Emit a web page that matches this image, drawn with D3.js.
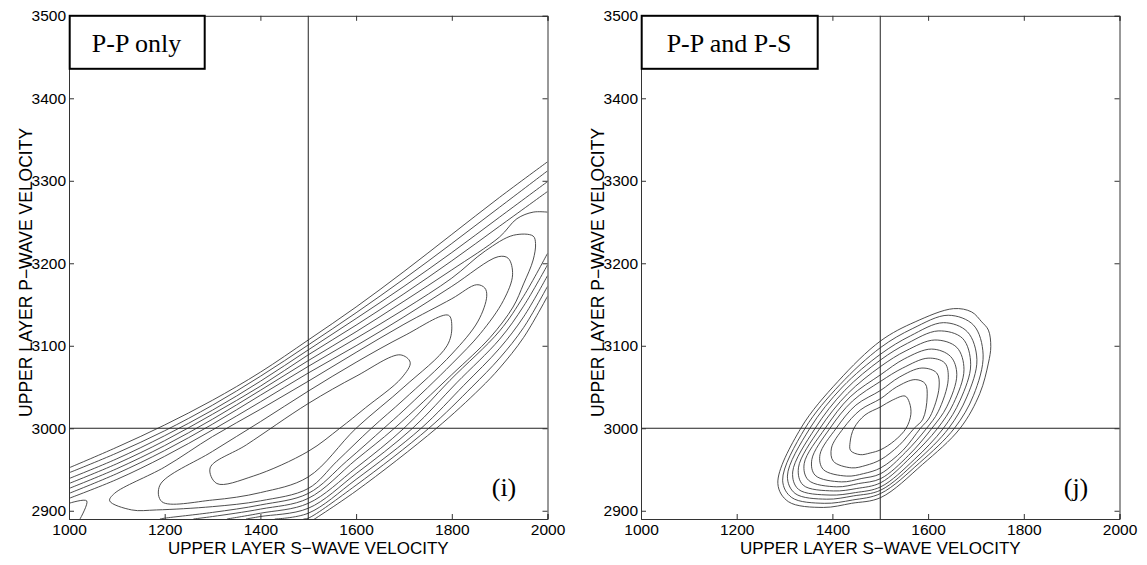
<!DOCTYPE html>
<html>
<head>
<meta charset="utf-8">
<script src="https://cdn.jsdelivr.net/npm/d3@7"></script>
<style>
  body { margin: 0; background: #fff; }
</style>
</head>
<body>
<script>
// axis ticks
const sTicks = [1000, 1200, 1400, 1600, 1800, 2000];
const pTicks = [2900, 3000, 3100, 3200, 3300, 3400, 3500];
const sRange = [1000, 2000];
const pRange = [2890, 3500];

// true model (cross lines)
const trueS = 1500;
const trueP = 3000;

// contour lines, [S velocity, P velocity]
const ppOnly = [
  // upper branches, left edge -> right edge
  [[1000,2952],[1100,2977],[1200,3004],[1300,3034],[1400,3068],[1500,3107],[1600,3147],[1700,3190],[1800,3235],[1900,3280],[2000,3323]],
  [[1000,2946],[1100,2970],[1200,2997],[1300,3028],[1400,3063],[1500,3101],[1600,3140],[1700,3181],[1800,3224],[1900,3268],[2000,3312]],
  [[1000,2939],[1100,2963],[1200,2991],[1300,3022],[1400,3057],[1500,3095],[1600,3133],[1700,3172],[1800,3213],[1900,3256],[2000,3299]],
  [[1000,2933],[1100,2957],[1200,2985],[1300,3017],[1400,3051],[1500,3089],[1600,3125],[1700,3163],[1800,3203],[1900,3245],[2000,3287]],
  [[1000,2927],[1100,2951],[1200,2979],[1300,3011],[1400,3046],[1500,3082],[1600,3117],[1700,3154],[1800,3192],[1900,3232],[1936,3254],[1970,3262],[2000,3262]],
  // lower branches, bottom edge -> right edge
  [[1330,2890],[1400,2897],[1500,2909],[1600,2952],[1700,3000],[1796,3058],[1900,3118],[1950,3160],[2000,3212]],
  [[1370,2890],[1400,2893],[1500,2903],[1600,2945],[1718,3000],[1810,3055],[1900,3108],[1950,3148],[2000,3198]],
  [[1430,2890],[1500,2897],[1600,2938],[1736,3000],[1825,3052],[1900,3097],[1950,3135],[2000,3185]],
  [[1490,2890],[1500,2891],[1600,2931],[1752,3000],[1842,3050],[1900,3085],[1950,3122],[2000,3172]],
  [[1500,2885],[1600,2924],[1768,3000],[1859,3048],[1900,3073],[1950,3110],[2000,3160]],
  // levels that close on the right
  [[1000,2921],[1100,2945],[1200,2973],[1300,3005],[1400,3040],[1500,3075],[1600,3109],[1700,3144],[1800,3182],[1870,3215],[1929,3234],[1970,3233],[1975,3224],[1970,3204],[1950,3175],[1928,3147],[1880,3110],[1800,3065],[1680,3000],[1600,2962],[1500,2915],[1400,2902],[1300,2893],[1260,2890]],
  [[1000,2915],[1100,2938],[1200,2966],[1300,2998],[1400,3032],[1500,3067],[1600,3100],[1700,3135],[1800,3172],[1897,3208],[1918,3206],[1927,3186],[1908,3155],[1860,3115],[1800,3078],[1700,3022],[1658,3000],[1580,2960],[1500,2921],[1400,2907],[1300,2898],[1200,2891],[1190,2890]],
  [[1000,2909],[1037,2912],[1023,2890]],
  // closed levels
  [[1085,2912],[1095,2921],[1200,2953],[1300,2990],[1400,3023],[1500,3057],[1600,3092],[1700,3126],[1800,3157],[1852,3174],[1869,3170],[1873,3160],[1855,3130],[1800,3090],[1700,3035],[1632,3000],[1560,2960],[1500,2927],[1400,2912],[1300,2905],[1183,2901],[1131,2901],[1085,2912]],
  [[1190,2931],[1300,2972],[1400,3008],[1500,3045],[1600,3080],[1700,3112],[1793,3137],[1800,3123],[1790,3100],[1700,3050],[1600,3000],[1500,2941],[1400,2922],[1300,2913],[1194,2911],[1190,2931]],
  [[1295,2952],[1371,2980],[1500,3030],[1600,3063],[1692,3089],[1713,3080],[1695,3061],[1620,3025],[1566,3000],[1500,2972],[1385,2942],[1309,2933],[1295,2952]]
];

// contour rings, outermost first
const ppPs = [
  [[1653,3145],[1691,3141],[1712,3129],[1726,3119],[1731,3099],[1726,3079],[1708,3042],[1667,3000],[1588,2956],[1501,2916],[1440,2909],[1381,2904],[1308,2911],[1286,2933],[1334,3000],[1412,3057],[1501,3106],[1573,3129],[1653,3145]],
  [[1642,3137],[1695,3125],[1715,3089],[1695,3040],[1655,3000],[1582,2958],[1501,2921],[1442,2913],[1383,2909],[1315,2916],[1296,2937],[1343,3000],[1416,3053],[1501,3098],[1568,3121],[1642,3137]],
  [[1632,3128],[1682,3117],[1702,3083],[1681,3038],[1643,3000],[1576,2960],[1501,2925],[1444,2918],[1388,2914],[1322,2921],[1306,2942],[1353,3000],[1421,3050],[1501,3090],[1563,3112],[1632,3128]],
  [[1621,3118],[1672,3109],[1689,3077],[1667,3034],[1632,3000],[1571,2962],[1501,2929],[1448,2922],[1395,2919],[1329,2926],[1317,2947],[1364,3000],[1426,3046],[1501,3083],[1557,3103],[1621,3118]],
  [[1614,3107],[1660,3098],[1675,3071],[1653,3030],[1620,3000],[1564,2965],[1501,2934],[1451,2927],[1402,2924],[1339,2931],[1329,2952],[1374,3000],[1432,3042],[1501,3075],[1554,3094],[1614,3107]],
  [[1607,3096],[1647,3087],[1660,3065],[1639,3026],[1608,3000],[1559,2967],[1501,2939],[1455,2933],[1409,2929],[1350,2937],[1341,2957],[1385,3000],[1437,3038],[1501,3065],[1550,3084],[1607,3096]],
  [[1600,3085],[1635,3079],[1642,3059],[1621,3020],[1597,3000],[1553,2971],[1501,2945],[1460,2939],[1419,2935],[1364,2943],[1357,2962],[1395,3000],[1442,3033],[1501,3057],[1547,3073],[1600,3085]],
  [[1587,3073],[1618,3067],[1623,3050],[1604,3014],[1584,3000],[1547,2973],[1501,2952],[1465,2945],[1430,2942],[1381,2950],[1374,2968],[1408,3000],[1449,3028],[1501,3046],[1540,3062],[1587,3073]],
  [[1573,3059],[1594,3054],[1598,3038],[1589,3011],[1571,3000],[1539,2979],[1501,2962],[1470,2955],[1440,2952],[1402,2960],[1398,2976],[1423,3000],[1458,3022],[1501,3036],[1534,3050],[1573,3059]],
  [[1552,3039],[1561,3031],[1564,3017],[1554,3000],[1530,2985],[1501,2974],[1479,2970],[1458,2968],[1438,2973],[1437,2983],[1445,3000],[1468,3016],[1501,3026],[1525,3034],[1552,3039]]
];

const panels = [
  { left: 69, title: "P-P only", boxW: 135, tag: "(i)", lines: ppOnly },
  { left: 641, title: "P-P and P-S", boxW: 176, tag: "(j)", lines: ppPs }
];

const W = 1147, H = 565;
const plotW = 478.5, plotTop = 15.8, plotBottom = 519;

const svg = d3.select("body").append("svg")
  .attr("width", W)
  .attr("height", H)
  .style("font-family", "'Liberation Sans', Arial, sans-serif");

// closed rings repeat their first point; draw those with a closed curve
function contourPath(x, y) {
  let open = d3.line().x(d => x(d[0])).y(d => y(d[1])).curve(d3.curveCatmullRom.alpha(0.5));
  let closed = d3.line().x(d => x(d[0])).y(d => y(d[1])).curve(d3.curveCatmullRomClosed.alpha(0.5));
  return function (pts) {
    let a = pts[0], b = pts[pts.length - 1];
    if (pts.length > 3 && a[0] === b[0] && a[1] === b[1]) return closed(pts.slice(0, -1));
    return open(pts);
  };
}

panels.forEach(function (p, i) {
  let h = plotBottom - plotTop;
  let x = d3.scaleLinear().domain(sRange).range([0, plotW]);
  let y = d3.scaleLinear().domain(pRange).range([h, 0]);

  let g = svg.append("g").attr("transform", "translate(" + p.left + "," + plotTop + ")");

  g.append("clipPath").attr("id", "clip" + i)
    .append("rect").attr("width", plotW).attr("height", h);

  // contours
  g.append("g").attr("clip-path", "url(#clip" + i + ")")
    .selectAll("path").data(p.lines).enter()
    .append("path")
    .attr("d", contourPath(x, y))
    .attr("fill", "none")
    .attr("stroke", "#3a3a3a")
    .attr("stroke-width", 0.9);

  // true model lines
  g.append("line").attr("x1", x(trueS)).attr("x2", x(trueS)).attr("y1", 0).attr("y2", h)
    .attr("stroke", "#222").attr("stroke-width", 1);
  g.append("line").attr("x1", 0).attr("x2", plotW).attr("y1", y(trueP)).attr("y2", y(trueP))
    .attr("stroke", "#222").attr("stroke-width", 1);

  // axes, ticks pointing inward
  let fmt = d3.format("d");
  let ax = [
    g.append("g").attr("transform", "translate(0," + h + ")")
      .call(d3.axisBottom(x).tickValues(sTicks).tickFormat(fmt).tickSize(-5).tickPadding(5)),
    g.append("g")
      .call(d3.axisLeft(y).tickValues(pTicks).tickFormat(fmt).tickSize(-5).tickPadding(3)),
    g.append("g")
      .call(d3.axisTop(x).tickValues(sTicks).tickSize(-5).tickFormat("")),
    g.append("g").attr("transform", "translate(" + plotW + ",0)")
      .call(d3.axisRight(y).tickValues(pTicks).tickSize(-5).tickFormat(""))
  ];
  ax.forEach(function (a) {
    a.selectAll("path, line").attr("stroke", "#333");
    a.selectAll("text").attr("fill", "#000").style("font-size", "15.5px")
      .style("font-family", "'Liberation Sans', Arial, sans-serif");
  });

  // axis titles
  g.append("text")
    .attr("x", plotW / 2).attr("y", 538.5)
    .attr("text-anchor", "middle")
    .style("font-size", "17px")
    .text("UPPER LAYER S\u2212WAVE VELOCITY");
  g.append("text")
    .attr("transform", "translate(-37," + (h / 2 + 5) + ") rotate(-90)")
    .attr("text-anchor", "middle")
    .style("font-size", "17.5px")
    .text("UPPER LAYER P\u2212WAVE VELOCITY");

  // title box
  g.append("rect")
    .attr("x", 0.7).attr("y", 0).attr("width", p.boxW).attr("height", 53)
    .attr("fill", "#fff").attr("stroke", "#000").attr("stroke-width", 2);
  g.append("text")
    .attr("x", p.boxW / 2).attr("y", 36)
    .attr("text-anchor", "middle")
    .style("font-family", "'Liberation Serif', 'Times New Roman', serif")
    .style("font-size", "26px")
    .text(p.title);

  // panel tag
  g.append("text")
    .attr("x", plotW - 43.5).attr("y", 480)
    .attr("text-anchor", "middle")
    .style("font-family", "'Liberation Serif', 'Times New Roman', serif")
    .style("font-size", "26px")
    .text(p.tag);
});
</script>
</body>
</html>
